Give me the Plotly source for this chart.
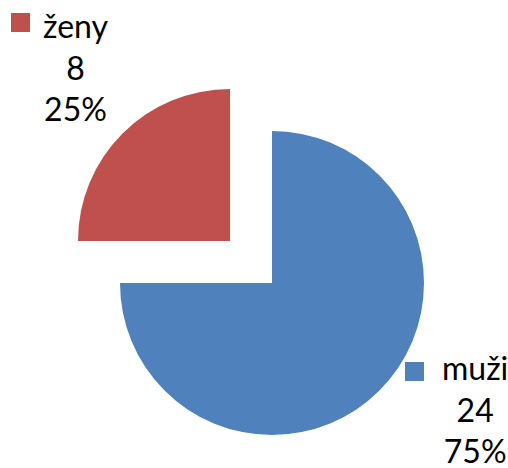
import plotly.graph_objects as go

labels = ["muži", "ženy"]
values = [24, 8]
colors = ["#4F81BD", "#C0504D"]

W, H = 508, 468
total = sum(values)
percents = [round(v / total * 100) for v in values]

def dom(cx, cy, r):
    return dict(x=[(cx - r) / W, (cx + r) / W], y=[1 - (cy + r) / H, 1 - (cy - r) / H])

# each slice drawn by its own pie trace (same data), other slice transparent -> exploded look
centers = [(272, 283), (230, 241)]
R = 152

fig = go.Figure()
for i in range(len(labels)):
    cols = [c if j == i else "rgba(0,0,0,0)" for j, c in enumerate(colors)]
    fig.add_trace(go.Pie(
        labels=labels, values=values, sort=False, direction="clockwise", rotation=0,
        marker=dict(colors=cols, line=dict(width=0)),
        textinfo="none", hoverinfo="label+value+percent", showlegend=False,
        domain=dom(centers[i][0], centers[i][1], R),
    ))

label_pos = [(475, 409, 405, 362), (76, 67, 11, 13)]  # text center x,y ; square x,y
font = dict(family="Lato, Carlito, sans-serif", size=32, color="black")
for i in range(len(labels)):
    tx, ty, sx, sy = label_pos[i]
    fig.add_annotation(x=tx / W, y=1 - ty / H, xref="paper", yref="paper",
                       text=f"{labels[i]}<br>{values[i]}<br>{percents[i]}%",
                       showarrow=False, font=font, align="center",
                       xanchor="center", yanchor="middle")
    fig.add_shape(type="rect", xref="paper", yref="paper",
                  x0=sx / W, x1=(sx + 19) / W, y0=1 - (sy + 19) / H, y1=1 - sy / H,
                  fillcolor=colors[i], line=dict(width=0))

fig.update_layout(width=W, height=H, margin=dict(l=0, r=0, t=0, b=0),
                  paper_bgcolor="white", plot_bgcolor="white")
fig.write_html("out.html", config={"displayModeBar": False},
               post_script="document.body.style.margin='0';document.body.style.overflow='hidden';")
